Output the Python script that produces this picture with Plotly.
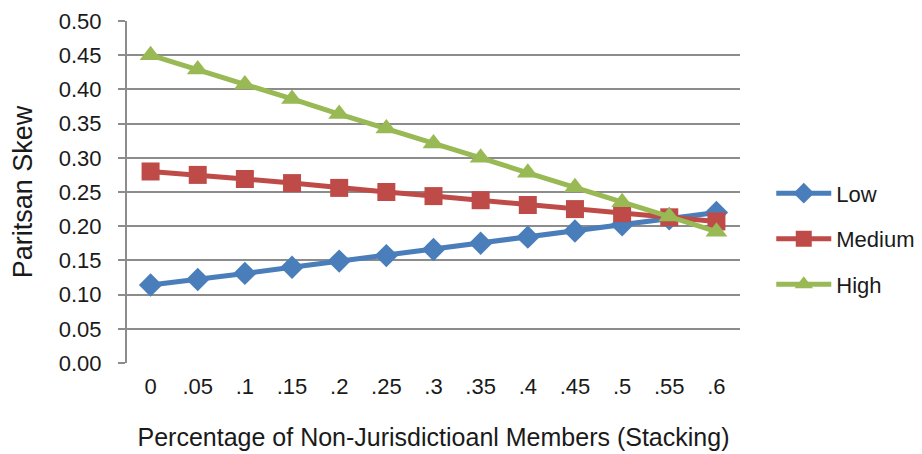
import plotly.graph_objects as go

categories = ["0", ".05", ".1", ".15", ".2", ".25", ".3", ".35", ".4", ".45", ".5", ".55", ".6"]
low = [0.114, 0.122, 0.131, 0.140, 0.149, 0.157, 0.166, 0.175, 0.184, 0.193, 0.202, 0.211, 0.220]
medium = [0.280, 0.275, 0.269, 0.263, 0.256, 0.250, 0.244, 0.238, 0.231, 0.225, 0.219, 0.213, 0.207]
high = [0.450, 0.429, 0.407, 0.386, 0.364, 0.343, 0.321, 0.300, 0.278, 0.257, 0.235, 0.214, 0.192]
y_ticks = [0.0, 0.05, 0.10, 0.15, 0.20, 0.25, 0.30, 0.35, 0.40, 0.45, 0.50]

FONT = "Liberation Sans, Arial, sans-serif"
TXT = "#1a1a1a"

fig = go.Figure()
series = [
    ("Low", low, "#4A7EBB", "diamond", 18),
    ("Medium", medium, "#BE4B48", "square", 18),
    ("High", high, "#98B954", "triangle-up", 19),
]
for name, vals, col, sym, sz in series:
    fig.add_trace(go.Scatter(
        x=categories, y=vals, name=name, mode="lines+markers",
        line=dict(color=col, width=5),
        marker=dict(symbol=sym, size=sz, color=col),
        legendgroup=name,
    ))

fig.update_layout(
    width=914, height=446,
    margin=dict(l=119, r=182, t=13, b=91, autoexpand=False),
    paper_bgcolor="white", plot_bgcolor="white",
    font=dict(family=FONT, size=22, color=TXT),
    showlegend=True,
    legend=dict(x=1.051, xanchor="left", y=0.363, yanchor="middle",
                font=dict(size=22, color=TXT), tracegroupgap=14,
                itemwidth=55, bgcolor="rgba(0,0,0,0)"),
    xaxis=dict(
        type="category", range=[-0.5, 12.5], automargin=False,
        showgrid=False, showline=False, ticks="",
        tickfont=dict(size=22), ticklabelstandoff=8,
        title=dict(text="Percentage of Non-Jurisdictioanl Members (Stacking)",
                   font=dict(size=25), standoff=30),
        zeroline=False,
    ),
    yaxis=dict(
        range=[0, 0.5], tickvals=y_ticks, tickformat=".2f", automargin=False,
        showgrid=True, gridcolor="#8C8C8C", gridwidth=2,
        showline=True, linecolor="#8C8C8C", linewidth=2,
        ticks="outside", ticklen=7, tickcolor="#8C8C8C", tickwidth=2,
        tickfont=dict(size=22), ticklabelstandoff=12,
        title=dict(text="Paritsan Skew", font=dict(size=27), standoff=25),
        zeroline=False,
    ),
)

fig.write_html("out.html")
